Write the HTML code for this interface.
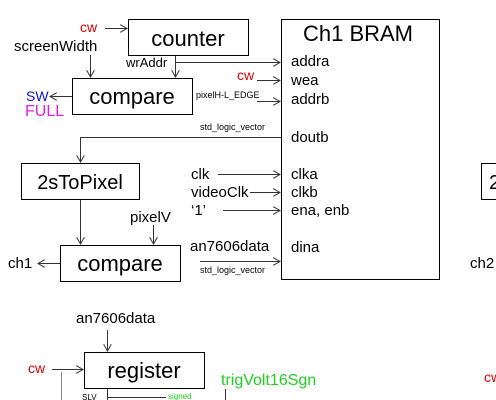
<!DOCTYPE html>
<html><head><style>
html,body{margin:0;padding:0;background:#fff;width:496px;height:400px;overflow:hidden}
text{font-family:"Liberation Sans",Arial,sans-serif}
</style></head><body>
<svg width="496" height="400" xmlns="http://www.w3.org/2000/svg">
<defs><marker id="a" markerWidth="8" markerHeight="8" refX="7" refY="4" orient="auto" markerUnits="userSpaceOnUse"><path d="M0,0 L7,4 L0,8" fill="none" stroke="#333" stroke-width="1"/></marker></defs>
<g fill="#fff" stroke="#000" stroke-width="1">
<rect x="281.5" y="19.5" width="158" height="260"/>
<rect x="128.5" y="19.5" width="120" height="36"/>
<rect x="72.5" y="78.5" width="120" height="36"/>
<rect x="21.5" y="163.5" width="118" height="36"/>
<rect x="60.5" y="245.5" width="120" height="36"/>
<rect x="84.5" y="352.5" width="120" height="36"/>
<rect x="481.5" y="163.5" width="30" height="36"/>
</g>
<g stroke="#333" stroke-width="1" fill="none">
<path d="M105 28.5H127" marker-end="url(#a)"/>
<path d="M90.5 55V77" marker-end="url(#a)"/>
<path d="M175.5 56V77" marker-end="url(#a)"/>
<path d="M175 62.5H280" marker-end="url(#a)"/>
<path d="M257 80.5H280" marker-end="url(#a)"/>
<path d="M257 101.5H280" marker-end="url(#a)"/>
<path d="M72 96.5H50" marker-end="url(#a)"/>
<path d="M281 137.5H80.5V162" marker-end="url(#a)"/>
<path d="M80.5 200V244" marker-end="url(#a)"/>
<path d="M153.5 225V244" marker-end="url(#a)"/>
<path d="M60 263.5H38" marker-end="url(#a)"/>
<path d="M218 174.5H280" marker-end="url(#a)"/>
<path d="M250 192.5H280" marker-end="url(#a)"/>
<path d="M223 210.5H280" marker-end="url(#a)"/>
<path d="M200 261.5H280" marker-end="url(#a)"/>
<path d="M107.5 330V351" marker-end="url(#a)"/>
<path d="M52 369.5H83" marker-end="url(#a)"/>
<path d="M107.5 389V400"/>
<path d="M108 397.5H166"/>
<path d="M225.5 389V400"/>
<path d="M61.5 372V400" stroke="#888"/>
</g>
<g font-size="15" fill="#000">
<text x="358" y="41" font-size="22" text-anchor="middle">Ch1 BRAM</text>
<text x="291" y="66">addra</text><text x="291" y="85">wea</text><text x="291" y="104">addrb</text>
<text x="291" y="142">doutb</text><text x="291" y="179">clka</text><text x="291" y="197">clkb</text>
<text x="291" y="215">ena, enb</text><text x="291" y="252">dina</text>
<text x="188" y="46" font-size="22" text-anchor="middle">counter</text>
<text x="132" y="104" font-size="22" text-anchor="middle">compare</text>
<text x="80" y="189" font-size="20" text-anchor="middle">2sToPixel</text>
<text x="120" y="271" font-size="22" text-anchor="middle">compare</text>
<text x="144" y="378" font-size="22" text-anchor="middle">register</text>
<text x="489" y="189" font-size="20">2</text>
<text x="14" y="51">screenWidth</text>
<text x="126" y="67" font-size="13">wrAddr</text>
<text x="196" y="98" font-size="9">pixelH-L_EDGE</text>
<text x="200" y="130" font-size="9">std_logic_vector</text>
<text x="200" y="273" font-size="9">std_logic_vector</text>
<text x="130" y="222">pixelV</text>
<text x="8" y="268">ch1</text>
<text x="470" y="268">ch2</text>
<text x="191" y="179">clk</text>
<text x="191" y="197">videoClk</text>
<text x="191" y="215">‘1’</text>
<text x="190" y="251">an7606data</text>
<text x="76" y="323">an7606data</text>
<text x="82" y="400" font-size="8">SLV</text>
</g>
<g font-size="14" fill="#e00000">
<text x="80" y="32">cw</text>
<text x="237" y="80">cw</text>
<text x="28" y="373">cw</text>
<text x="484" y="382">cw</text>
</g>
<text x="26" y="101" font-size="14" fill="#1010d0">SW</text>
<text x="25" y="116" font-size="16" fill="#e020e0">FULL</text>
<text x="221" y="385" font-size="16" fill="#20d020">trigVolt16Sgn</text>
<text x="168" y="399" font-size="8" fill="#20d020">signed</text>
</svg>
</body></html>
